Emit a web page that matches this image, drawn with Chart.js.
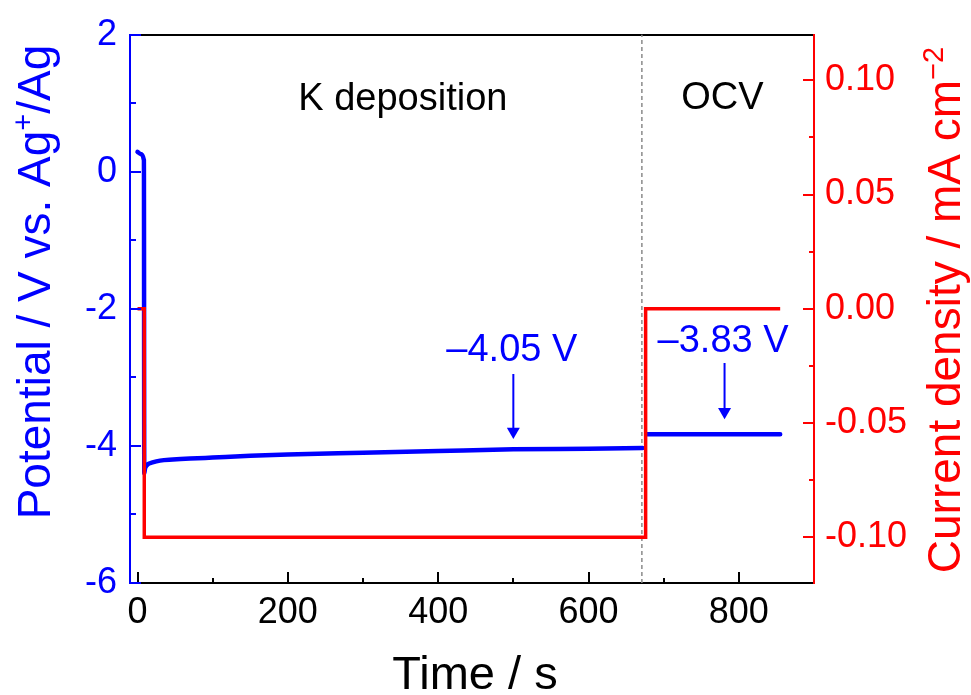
<!DOCTYPE html>
<html>
<head>
<meta charset="utf-8">
<script src="https://cdn.jsdelivr.net/npm/chart.js@4"></script>
<style>
html,body{margin:0;padding:0;background:#fff}
canvas{display:block}
</style>
</head>
<body>
<canvas id="kdep" width="971" height="695"></canvas>
<script>
// Potential (blue) during K deposition and OCV, current density (red) vs. time
const potTime  = [0, 4, 8.5, 9, 10, 12, 15, 20, 30, 47, 70, 100, 150, 200, 300, 400, 500, 600, 672, 675, 678, 855];
const potValue = [0.29, 0.26, 0.17, -4.40, -4.33, -4.29, -4.26, -4.24, -4.215, -4.20, -4.185, -4.17, -4.145, -4.125, -4.10, -4.075, -4.05, -4.04, -4.03, null, -3.83, -3.83];
const curTime  = [0, 9, 9, 676, 676, 855];
const curValue = [0, 0, -0.10, -0.10, 0, 0];
const boundaryTime = 671;

const timeTicks = [0, 200, 400, 600, 800];
const potTicks = [-6, -4, -2, 0, 2];
const curTicks = [-0.10, -0.05, 0, 0.05, 0.10];

// arrows pointing at the marked potentials (time, shaft top, head centre)
const arrows = [
  {t: 500, from: -2.95, to: -3.79},
  {t: 781, from: -2.79, to: -3.50}
];
// text labels placed in data units (time, potential of baseline)
const notes = [
  {text: 'K deposition', t: 353, v: 0.90, color: '#000'},
  {text: 'OCV', t: 778, v: 0.91, color: '#000'},
  {text: '\u20134.05 V', t: 498, v: -2.76, color: '#0000ff'},
  {text: '\u20133.83 V', t: 779, v: -2.63, color: '#0000ff'}
];

const FONT = '"Liberation Sans", Arial, sans-serif';
const BLUE = '#0000ff', RED = '#ff0000';
const pts = (xs, ys) => xs.map((x, i) => ({x, y: ys[i]}));

const datasets = [
  {data: pts(curTime, curValue), yAxisID: 'y1', borderColor: RED, borderWidth: 3.5, pointRadius: 0},
  {data: pts(potTime, potValue), yAxisID: 'y', borderColor: BLUE, borderWidth: 4.5, pointRadius: 0,
   borderCapStyle: 'round', borderJoinStyle: 'round', spanGaps: false, cubicInterpolationMode: 'monotone'},
  {data: [{x: boundaryTime, y: -6}, {x: boundaryTime, y: 2}], yAxisID: 'y', borderColor: '#8a8a8a',
   borderWidth: 1.5, borderDash: [4, 3], pointRadius: 0}
];
arrows.forEach(a => datasets.push({
  data: [{x: a.t, y: a.from}, {x: a.t, y: a.to}], yAxisID: 'y', borderColor: BLUE, borderWidth: 2,
  pointRadius: [0, 7.5], pointHoverRadius: 0, pointStyle: 'triangle', pointRotation: 180,
  pointBackgroundColor: BLUE, pointBorderWidth: 0
}));

// inward major/minor tick marks
function minorsOf(major, min, max) {
  const s = major[1] - major[0];
  const out = [major[0] - s / 2];
  major.forEach(m => out.push(m + s / 2));
  return out.filter(v => v > min && v < max);
}
const inwardTicks = {
  id: 'inwardTicks',
  afterDatasetsDraw(chart) {
    const {ctx, chartArea: a, scales} = chart;
    ctx.save();
    ctx.lineWidth = 2;
    const xs = scales.x, yl = scales.y, yr = scales.y1;
    const drawX = (vals, len) => vals.forEach(v => {
      const p = Math.round(xs.getPixelForValue(v));
      ctx.beginPath(); ctx.moveTo(p, a.bottom); ctx.lineTo(p, a.bottom - len); ctx.stroke();
    });
    const drawY = (sc, vals, len, x0, dir) => vals.forEach(v => {
      const p = Math.round(sc.getPixelForValue(v));
      ctx.beginPath(); ctx.moveTo(x0, p); ctx.lineTo(x0 + dir * len, p); ctx.stroke();
    });
    ctx.strokeStyle = '#000';
    drawX(timeTicks, 11);
    drawX(minorsOf(timeTicks, xs.min, xs.max), 5);
    ctx.strokeStyle = BLUE;
    drawY(yl, potTicks, 11, a.left, 1);
    drawY(yl, minorsOf(potTicks, yl.min, yl.max), 6, a.left, 1);
    ctx.strokeStyle = RED;
    drawY(yr, curTicks, 11, a.right, -1);
    drawY(yr, minorsOf(curTicks, yr.min, yr.max), 5, a.right, -1);
    ctx.restore();
  }
};

// text with superscripts, centred on x
function richText(ctx, parts, x, y, size) {
  const sub = Math.round(size * 0.62);
  ctx.textAlign = 'left';
  ctx.textBaseline = 'alphabetic';
  let w = 0;
  parts.forEach(([t, sup]) => { ctx.font = `${sup ? sub : size}px ${FONT}`; w += ctx.measureText(t).width; });
  let cx = x - w / 2;
  parts.forEach(([t, sup]) => {
    ctx.font = `${sup ? sub : size}px ${FONT}`;
    ctx.fillText(t, cx, sup ? y - size * 0.38 : y);
    cx += ctx.measureText(t).width;
  });
}
const labels = {
  id: 'labels',
  afterDraw(chart) {
    const {ctx, scales} = chart;
    ctx.save();
    ctx.fillStyle = '#000';
    richText(ctx, [['Time / s']], 475, 689, 47);

    ctx.save();
    ctx.translate(50, 282);
    ctx.rotate(-Math.PI / 2);
    ctx.fillStyle = BLUE;
    richText(ctx, [['Potential / V vs. Ag'], ['+', true], ['/Ag']], 0, 0, 46);
    ctx.restore();

    ctx.save();
    ctx.translate(960, 310);
    ctx.rotate(-Math.PI / 2);
    ctx.fillStyle = RED;
    richText(ctx, [['Current density / mA cm'], ['\u22122', true]], 0, 0, 46);
    ctx.restore();

    notes.forEach(n => {
      ctx.fillStyle = n.color;
      richText(ctx, [[n.text]], scales.x.getPixelForValue(n.t), scales.y.getPixelForValue(n.v), 38);
    });
    ctx.restore();
  }
};

const tickFont = {family: FONT, size: 36};
new Chart(document.getElementById('kdep'), {
  type: 'line',
  data: {datasets},
  plugins: [inwardTicks, labels],
  options: {
    responsive: false,
    animation: false,
    devicePixelRatio: 1,
    layout: {padding: 0},
    plugins: {legend: {display: false}, tooltip: {enabled: false}},
    scales: {
      x: {
        type: 'linear', position: 'bottom', min: -10, max: 900,
        afterBuildTicks: s => { s.ticks = timeTicks.map(value => ({value})); },
        afterFit: s => { s.height = 112; },
        ticks: {color: '#000', font: tickFont, padding: 8, maxRotation: 0, autoSkip: false},
        grid: {display: false, drawTicks: false},
        border: {color: '#000', width: 2}
      },
      x2: {
        type: 'linear', position: 'top', min: -10, max: 900,
        afterFit: s => { s.height = 32; },
        ticks: {display: false},
        grid: {display: false, drawTicks: false},
        border: {color: '#000', width: 2}
      },
      y: {
        type: 'linear', position: 'left', min: -6, max: 2,
        afterBuildTicks: s => { s.ticks = potTicks.map(value => ({value})); },
        afterFit: s => { s.width = 130; },
        ticks: {color: BLUE, font: tickFont, padding: 13, autoSkip: false},
        grid: {display: false, drawTicks: false},
        border: {color: BLUE, width: 2}
      },
      y1: {
        type: 'linear', position: 'right', min: -0.12, max: 0.12,
        afterBuildTicks: s => { s.ticks = curTicks.map(value => ({value})); },
        afterFit: s => { s.width = 157; },
        ticks: {color: RED, font: tickFont, padding: 11, autoSkip: false, callback: v => v.toFixed(2)},
        grid: {display: false, drawTicks: false},
        border: {color: RED, width: 2}
      }
    }
  }
});
</script>
</body>
</html>
